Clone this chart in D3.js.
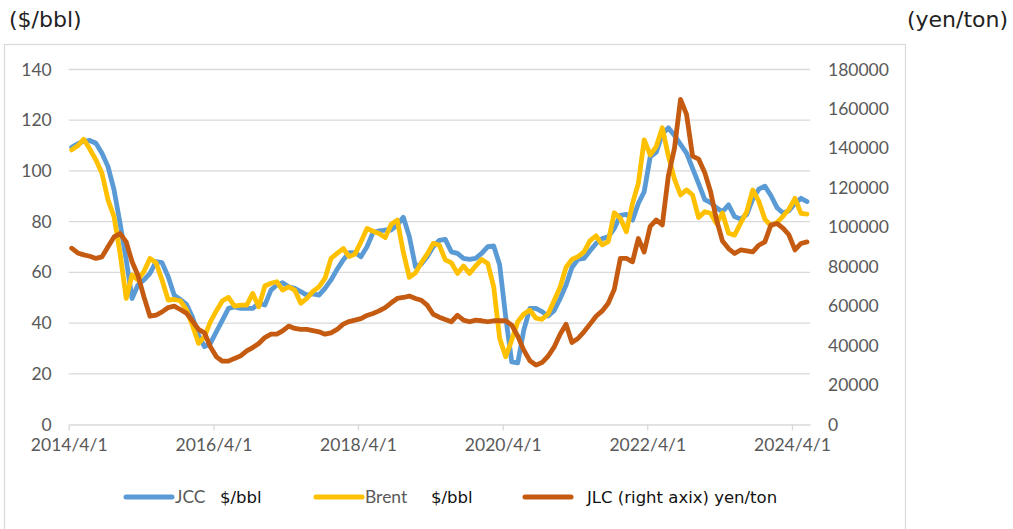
<!DOCTYPE html>
<html lang="en">
<head>
<meta charset="utf-8">
<title>JCC / Brent / JLC</title>
<script src="https://cdn.jsdelivr.net/npm/d3@7/dist/d3.min.js"></script>
<style>
  body { margin: 0; background: #fff; }
  .tick text { font-family: Lato, "Open Sans", sans-serif; font-size: 17.5px; fill: #595959; }
</style>
</head>
<body>
<script>
// monthly series, 2014/4 .. 2024/6
var jcc = [
  109.3, 110.7, 111.7, 112.0, 110.9, 107.0, 101.7, 92.5, 79.3, 64.9, 49.7, 55.0,
  57.0, 59.6, 64.2, 63.8, 58.3, 51.0, 49.3, 47.5, 42.5, 35.3, 30.7, 32.0,
  36.6, 41.2, 45.8, 46.4, 45.8, 45.8, 45.8, 47.8, 47.1, 53.0, 55.0, 55.9,
  54.3, 53.7, 52.4, 51.0, 51.5, 51.0, 53.7, 57.0, 61.2, 64.9, 67.8, 67.8,
  66.2, 70.1, 75.7, 76.4, 76.7, 76.7, 78.7, 81.7, 74.1, 62.2, 63.3, 66.2,
  70.1, 72.6, 73.0, 68.1, 67.5, 65.5, 65.1, 65.5, 67.5, 70.1, 70.4, 63.0,
  42.5, 24.7, 24.3, 37.2, 45.8, 45.8, 44.5, 42.8, 44.9, 49.7, 55.0, 61.9,
  65.1, 65.5, 68.5, 71.4, 73.3, 74.0, 77.3, 82.5, 82.9, 80.6, 87.2, 91.8,
  105.6, 107.4, 114.5, 117.0, 114.0, 110.5, 107.0, 101.0, 95.0, 88.7, 87.5, 85.5,
  83.9, 86.6, 82.0, 81.0, 82.8, 89.0, 92.8, 94.0, 90.3, 85.5, 83.4, 84.3,
  87.2, 89.2, 87.9
];
var brent = [
  108.3, 109.9, 112.5, 108.6, 104.3, 99.1, 88.6, 82.0, 67.5, 49.7, 59.0, 57.0,
  60.3, 65.5, 63.8, 57.0, 49.1, 49.3, 48.8, 45.4, 39.2, 32.0, 34.6, 40.5,
  44.9, 48.8, 50.1, 46.7, 47.1, 47.1, 51.7, 46.4, 54.6, 55.7, 56.3, 53.0,
  54.3, 53.0, 47.8, 49.7, 52.5, 54.3, 57.6, 65.5, 67.5, 69.4, 66.2, 67.2,
  72.0, 77.3, 76.2, 75.3, 73.7, 79.0, 80.6, 68.0, 58.0, 59.8, 63.8, 67.2,
  71.4, 70.8, 64.9, 63.8, 59.6, 62.5, 59.6, 62.5, 65.1, 63.5, 54.3, 34.0,
  26.7, 33.3, 40.5, 43.6, 45.1, 41.9, 41.5, 43.6, 48.8, 54.3, 62.0, 65.1,
  66.2, 68.1, 72.5, 74.4, 70.8, 72.1, 83.5, 81.3, 76.0, 87.2, 95.1, 112.2,
  106.3, 109.6, 117.0, 106.0, 96.8, 90.5, 92.5, 90.5, 81.6, 83.9, 83.3, 79.2,
  83.4, 75.4, 74.7, 79.4, 83.9, 92.5, 88.0, 81.0, 78.3, 79.7, 82.1, 84.9,
  89.2, 83.3, 83.0
];
var jlc = [
  89400, 87000, 86000, 85300, 84200, 85000, 90100, 95100, 96800, 92600, 82500, 75700,
  64700, 54900, 55400, 57100, 59300, 60000, 58300, 56500, 52600, 48200, 46500, 39400,
  34300, 32100, 32100, 33500, 34800, 37300, 39000, 41100, 44100, 45800, 45800, 47500,
  49900, 48700, 48200, 48200, 47600, 47000, 45800, 46500, 48200, 50900, 52200, 52900,
  53700, 55300, 56300, 57600, 59300, 61700, 63900, 64400, 65100, 63900, 63000, 60500,
  55900, 54400, 53200, 52100, 55400, 52900, 52100, 52900, 52600, 52100, 52600, 52600,
  52600, 50400, 44800, 37700, 32300, 30100, 31400, 34600, 39200, 45900, 50800, 41600,
  43600, 47000, 50900, 54900, 57600, 61500, 68500, 84200, 84200, 82500, 94300, 87500,
  100500, 103700, 101200, 126000, 140000, 164800, 157200, 136100, 134600, 127700, 118000, 104000,
  93000, 89200, 86700, 88500, 88000, 87500, 90900, 92600, 101100, 101900, 99600, 96200,
  88500, 91800, 92600
];
var leftTicks = [0, 20, 40, 60, 80, 100, 120, 140];
var rightTicks = [0, 20000, 40000, 60000, 80000, 100000, 120000, 140000, 160000, 180000];
var xTickLabels = ["2014/4/1", "2016/4/1", "2018/4/1", "2020/4/1", "2022/4/1", "2024/4/1"];
var legendItems = [
  { name: "JCC", unit: "$/bbl", color: "#5B9BD5" },
  { name: "Brent", unit: "$/bbl", color: "#FFC000" },
  { name: "", unit: "JLC (right axix) yen/ton", color: "#C55A11" }
];

var W = 1013, H = 529;
var parse = d3.timeParse("%Y/%m/%d");
var months = d3.timeMonth.range(parse("2014/4/1"), parse("2024/7/1"));

var x = d3.scaleTime()
    .domain([parse("2014/4/1"), parse("2024/7/1")])
    .range([68.7, 810]);
var yL = d3.scaleLinear().domain([0, 140]).range([424.5, 69.5]);
var yR = d3.scaleLinear().domain([0, 180000]).range([424.5, 69.5]);

// Excel date axis puts each monthly point in the middle of its month
function mx(i) {
  var d = months[i];
  return (x(d) + x(d3.timeMonth.offset(d, 1))) / 2;
}

var svg = d3.select("body").append("svg")
    .attr("width", W).attr("height", H);

svg.append("rect")
    .attr("x", 4.5).attr("y", 44.5)
    .attr("width", 901).attr("height", 520)
    .attr("fill", "#fff").attr("stroke", "#d9d9d9").attr("stroke-width", 1.2);

// gridlines
svg.append("g").selectAll("line")
    .data(leftTicks.slice(1))
    .enter().append("line")
    .attr("x1", x.range()[0]).attr("x2", x.range()[1])
    .attr("y1", function(d) { return yL(d); })
    .attr("y2", function(d) { return yL(d); })
    .attr("stroke", "#d9d9d9").attr("stroke-width", 1.3);

var gl = svg.append("g")
    .attr("transform", "translate(" + x.range()[0] + ",0)")
    .call(d3.axisLeft(yL).tickValues(leftTicks).tickSize(0).tickPadding(17));
gl.select(".domain").remove();

var gr = svg.append("g")
    .attr("transform", "translate(" + x.range()[1] + ",0)")
    .call(d3.axisRight(yR).tickValues(rightTicks).tickFormat(d3.format("d"))
      .tickSize(0).tickPadding(18));
gr.select(".domain").remove();

var fmt = d3.timeFormat("%Y/%-m/%-d");
var gx = svg.append("g")
    .attr("transform", "translate(0," + yL(0) + ")")
    .call(d3.axisBottom(x)
      .tickValues(xTickLabels.map(parse))
      .tickFormat(fmt)
      .tickSize(6).tickSizeOuter(0).tickPadding(8));
gx.select(".domain").attr("stroke", "#d9d9d9").attr("stroke-width", 1.3);
gx.selectAll(".tick line").attr("stroke", "#d9d9d9").attr("stroke-width", 1.3);

var lineL = d3.line()
    .x(function(d, i) { return mx(i); })
    .y(function(d) { return yL(d); });
var lineR = d3.line()
    .x(function(d, i) { return mx(i); })
    .y(function(d) { return yR(d); });

function drawSeries(data, line, color) {
  svg.append("path").datum(data).attr("d", line)
      .attr("fill", "none").attr("stroke", color)
      .attr("stroke-width", 4.8)
      .attr("stroke-linejoin", "round").attr("stroke-linecap", "round");
}
drawSeries(jcc, lineL, legendItems[0].color);
drawSeries(brent, lineL, legendItems[1].color);
drawSeries(jlc, lineR, legendItems[2].color);

// axis titles
svg.append("text").attr("x", 9).attr("y", 27)
    .attr("font-family", "'DejaVu Sans', sans-serif").attr("font-size", 22)
    .attr("fill", "#222").text("($/bbl)");
svg.append("text").attr("x", 1008).attr("y", 27).attr("text-anchor", "end")
    .attr("font-family", "'DejaVu Sans', sans-serif").attr("font-size", 22)
    .attr("fill", "#222").text("(yen/ton)");

// legend
var legX = [126, 316, 525];
var lg = svg.append("g").selectAll("g")
    .data(legendItems)
    .enter().append("g")
    .attr("transform", function(d, i) { return "translate(" + legX[i] + ",497)"; });
lg.append("line")
    .attr("x1", 0).attr("x2", 46).attr("y1", 0).attr("y2", 0)
    .attr("stroke", function(d) { return d.color; })
    .attr("stroke-width", 5).attr("stroke-linecap", "round");
lg.append("text")
    .attr("x", 49).attr("y", 6)
    .attr("font-family", "Lato, 'Open Sans', sans-serif").attr("font-size", 17.5)
    .attr("fill", "#595959")
    .text(function(d) { return d.name; });
lg.append("text")
    .attr("x", function(d, i) { return i === 2 ? 62 : (i === 0 ? 94 : 115); })
    .attr("y", 6)
    .attr("font-family", "'DejaVu Sans', sans-serif").attr("font-size", 16.5)
    .attr("fill", "#111")
    .text(function(d) { return d.unit; });
</script>
</body>
</html>
